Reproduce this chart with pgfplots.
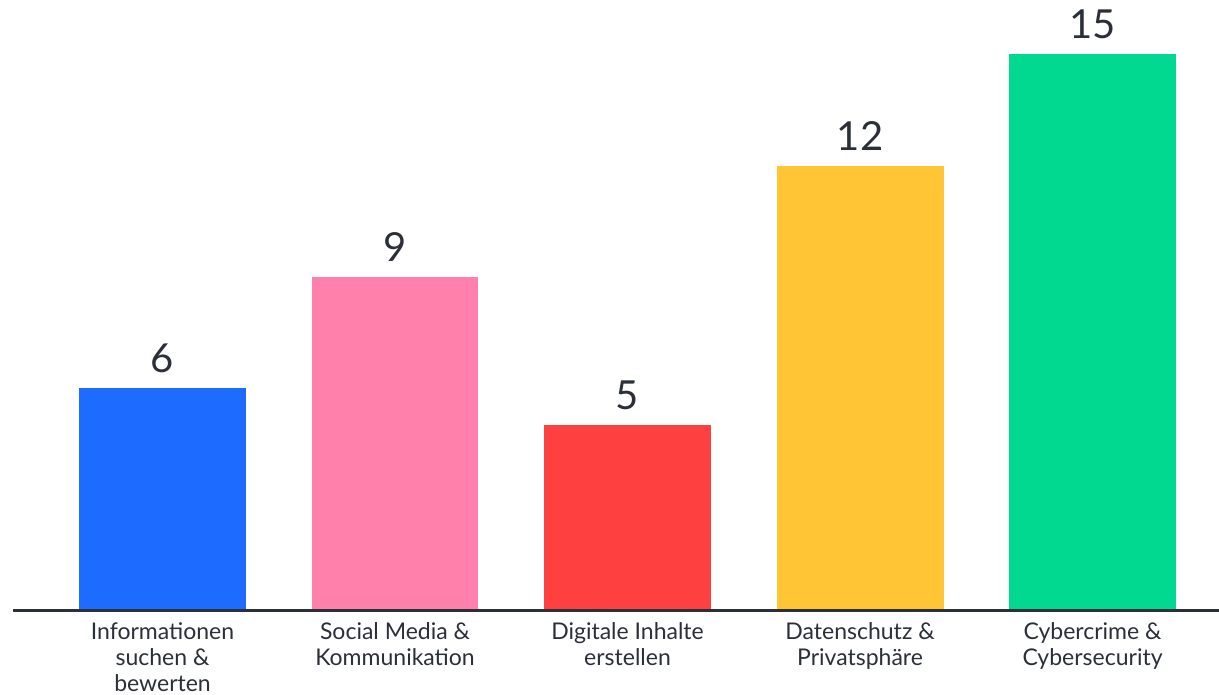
\documentclass[border=0pt]{standalone}
\usepackage{pgfplots}
\pgfplotsset{compat=1.18}
\usepackage{fontspec}
\setmainfont{Lato}
\definecolor{txt}{HTML}{2B2F38}
\definecolor{cblue}{HTML}{1E6CFF}
\definecolor{cpink}{HTML}{FF80AB}
\definecolor{cred}{HTML}{FF4040}
\definecolor{cyel}{HTML}{FFC535}
\definecolor{cgreen}{HTML}{00D98F}
\begin{document}
\begin{tikzpicture}
\begin{axis}[
  scale only axis, width=603pt, height=305.5pt,
  xmin=-0.643, xmax=4.544, ymin=0, ymax=16.46,
  axis x line*=bottom, axis y line=none,
  x axis line style={line width=1.5pt, color=txt, -},
  axis on top,
  ybar, bar width=0.718, bar shift=0pt,
  xtick={0,1,2,3,4},
  xticklabels={Informationen\\suchen \&\\bewerten, Social Media \&\\Kommunikation, Digitale Inhalte\\erstellen, Datenschutz \&\\Privatsphäre, Cybercrime \&\\Cybersecurity},
  major tick length=0pt,
  xticklabel style={align=center, font=\fontsize{11.5pt}{13pt}\selectfont, text=txt, yshift=-2.5pt},
  nodes near coords,
  /pgf/number format/assume math mode=true,
  every node near coord/.append style={font=\fontsize{20pt}{24pt}\selectfont, text=txt, yshift=4pt},
  clip=false,
]
\addplot[fill=cblue, draw=none] coordinates {(0,6)};
\addplot[fill=cpink, draw=none] coordinates {(1,9)};
\addplot[fill=cred, draw=none] coordinates {(2,5)};
\addplot[fill=cyel, draw=none] coordinates {(3,12)};
\addplot[fill=cgreen, draw=none] coordinates {(4,15)};
\coordinate (bl) at (axis cs:-0.699,-2.262);
\coordinate (tr) at (axis cs:4.544,16.46);
\end{axis}
\pgfresetboundingbox
\path[use as bounding box] (bl) rectangle (tr);
\end{tikzpicture}
\end{document}
